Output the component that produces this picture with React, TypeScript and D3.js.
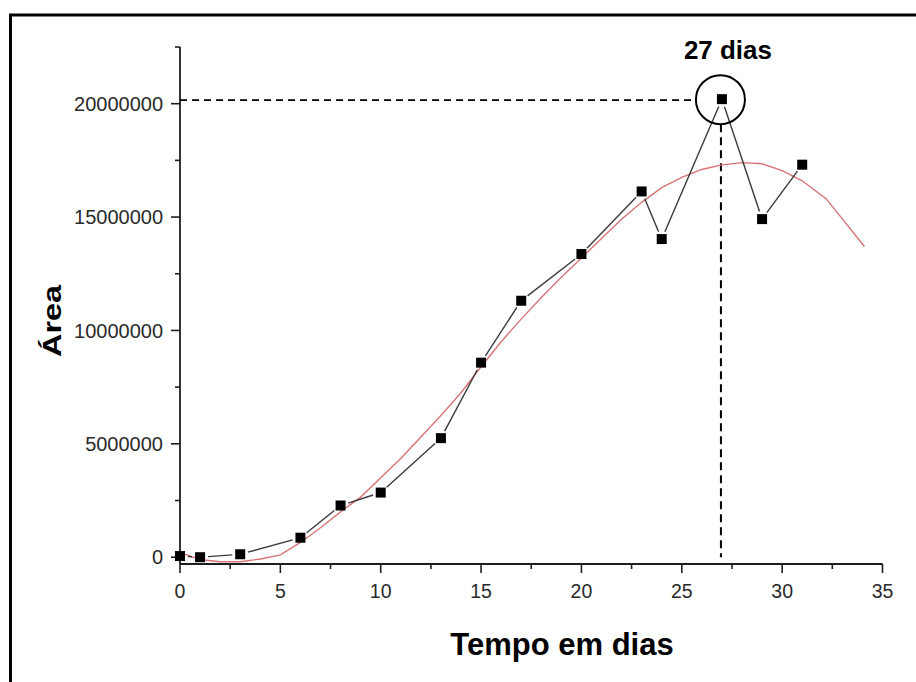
import React from 'react';
import * as d3 from 'd3';

// Measured area per day
const days = [0, 1, 3, 6, 8, 10, 13, 15, 17, 20, 23, 24, 27, 29, 31];
const areas = [
  50000, 0, 130000, 860000, 2280000, 2850000, 5250000, 8580000, 11310000,
  13370000, 16130000, 14030000, 20200000, 14910000, 17310000,
];

// Fitted growth curve
const fitDays = [
  0, 1, 2, 3, 4, 5, 6, 7, 8, 9, 10, 11, 12, 13, 14, 15, 16, 17, 18, 19, 20,
  21, 22, 23, 24, 25, 26, 27, 28, 29, 30, 31, 32.2, 34.1,
];
const fitAreas = [
  200000, -100000, -200000, -200000, -80000, 100000, 650000, 1300000, 2000000,
  2650000, 3500000, 4350000, 5300000, 6250000, 7250000, 8400000, 9500000,
  10500000, 11450000, 12350000, 13200000, 14050000, 14900000, 15650000,
  16300000, 16750000, 17100000, 17300000, 17400000, 17350000, 17050000,
  16600000, 15800000, 13700000,
];

const xTicks = [0, 5, 10, 15, 20, 25, 30, 35];
const xMinorTicks = [2.5, 7.5, 12.5, 17.5, 22.5, 27.5, 32.5];
const yTicks = [0, 5000000, 10000000, 15000000, 20000000];
const yMinorTicks = [2500000, 7500000, 12500000, 17500000, 22500000];

const peakLabel = '27 dias';
const xTitle = 'Tempo em dias';
const yTitle = 'Área';

const W = 916;
const H = 682;
const FONT = "'Liberation Sans', Arial, Helvetica, sans-serif";

const x = d3.scaleLinear().domain([0, 35]).range([180, 882.5]);
const y = d3.scaleLinear().domain([-300000, 22500000]).range([564, 47]);

export default function App() {
  const pts = days.map((d, i) => [x(d), y(areas[i])] as [number, number]);

  // connecting segments leave a small gap around each marker
  const gap = 8;
  const segments: { x1: number; y1: number; x2: number; y2: number }[] = [];
  for (let i = 0; i < pts.length - 1; i++) {
    const [ax, ay] = pts[i];
    const [bx, by] = pts[i + 1];
    const dx = bx - ax;
    const dy = by - ay;
    const len = Math.hypot(dx, dy);
    if (len <= gap * 2 + 1) continue;
    const ux = dx / len;
    const uy = dy / len;
    segments.push({
      x1: ax + ux * gap,
      y1: ay + uy * gap,
      x2: bx - ux * gap,
      y2: by - uy * gap,
    });
  }

  const fitLine = d3
    .line<number>()
    .x((_, i) => x(fitDays[i]))
    .y((v) => y(v))
    .curve(d3.curveLinear);

  const peakIdx = d3.maxIndex(areas);
  const px = x(days[peakIdx]);
  const py = y(areas[peakIdx]);
  const cx = px - 1.5;
  const cy = py + 0.5;
  const r = 24.5;

  const ms = 10; // marker size
  const axisColor = '#1e1e1e';
  const labelColor = '#2a2a2a';

  return (
    <svg
      width={W}
      height={H}
      viewBox={`0 0 ${W} ${H}`}
      style={{ position: 'absolute', left: 0, top: 0, background: '#fff' }}
    >
      <rect x={0} y={0} width={W} height={H} fill="#fff" />
      {/* outer frame */}
      <rect
        x={10.5}
        y={15}
        width={W + 20}
        height={H + 20}
        fill="none"
        stroke="#000"
        strokeWidth={3}
      />

      {/* axes */}
      <line x1={x(0)} y1={y.range()[1]} x2={x(0)} y2={y.range()[0]} stroke={axisColor} strokeWidth={1.8} />
      <line x1={x(0)} y1={y.range()[0]} x2={x(35)} y2={y.range()[0]} stroke={axisColor} strokeWidth={1.8} />

      {yTicks.map((t) => (
        <g key={`yt${t}`}>
          <line x1={x(0) - 9} x2={x(0)} y1={y(t)} y2={y(t)} stroke={axisColor} strokeWidth={1.6} />
          <text
            x={163}
            y={y(t) + 7.2}
            textAnchor="end"
            fontFamily={FONT}
            fontSize={20}
            fill={labelColor}
          >
            {t}
          </text>
        </g>
      ))}
      {yMinorTicks.map((t) => (
        <line key={`ym${t}`} x1={x(0) - 5} x2={x(0)} y1={y(t)} y2={y(t)} stroke={axisColor} strokeWidth={1.6} />
      ))}

      {xTicks.map((t) => (
        <g key={`xt${t}`}>
          <line x1={x(t)} x2={x(t)} y1={y.range()[0]} y2={y.range()[0] + 9} stroke={axisColor} strokeWidth={1.6} />
          <text
            x={x(t)}
            y={598}
            textAnchor="middle"
            fontFamily={FONT}
            fontSize={19.5}
            fill={labelColor}
          >
            {t}
          </text>
        </g>
      ))}
      {xMinorTicks.map((t) => (
        <line key={`xm${t}`} x1={x(t)} x2={x(t)} y1={y.range()[0]} y2={y.range()[0] + 5} stroke={axisColor} strokeWidth={1.6} />
      ))}

      {/* axis titles */}
      <text
        x={562}
        y={655}
        textAnchor="middle"
        fontFamily={FONT}
        fontWeight="bold"
        fontSize={31}
        fill="#000"
      >
        {xTitle}
      </text>
      <text
        transform="translate(61,321) rotate(-90)"
        textAnchor="middle"
        fontFamily={FONT}
        fontWeight="bold"
        fontSize={26}
        textLength={72}
        lengthAdjust="spacingAndGlyphs"
        fill="#000"
      >
        {yTitle}
      </text>

      {/* reference lines to the peak */}
      <line
        x1={x(0)}
        x2={cx - r}
        y1={py + 1}
        y2={py + 1}
        stroke="#000"
        strokeWidth={1.8}
        strokeDasharray="7 5"
      />
      <line
        x1={px - 1}
        x2={px - 1}
        y1={cy + r}
        y2={y(0)}
        stroke="#000"
        strokeWidth={2}
        strokeDasharray="8 5"
      />

      {/* fitted curve */}
      <path d={fitLine(fitAreas) || ''} fill="none" stroke="#d77477" strokeWidth={1.4} />

      {/* measured series */}
      {segments.map((s, i) => (
        <line key={`s${i}`} {...s} stroke="#3a3a3a" strokeWidth={1.4} />
      ))}
      {pts.map(([mx, my], i) => (
        <rect key={`m${i}`} x={mx - ms / 2} y={my - ms / 2} width={ms} height={ms} fill="#000" />
      ))}

      {/* peak annotation */}
      <circle cx={cx} cy={cy} r={r} fill="none" stroke="#000" strokeWidth={2} />
      <text
        x={px + 6}
        y={py - 40}
        textAnchor="middle"
        fontFamily={FONT}
        fontWeight="bold"
        fontSize={25}
        textLength={88}
        lengthAdjust="spacingAndGlyphs"
        fill="#000"
      >
        {peakLabel}
      </text>
    </svg>
  );
}
